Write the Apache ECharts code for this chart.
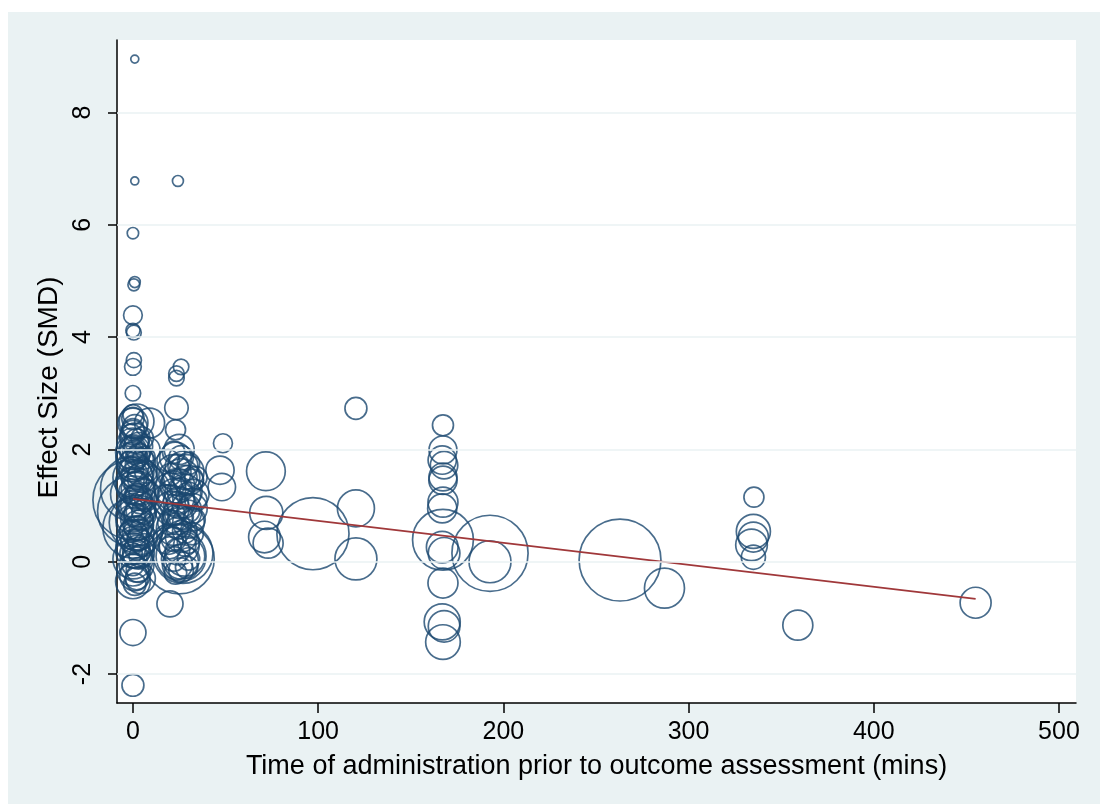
<!DOCTYPE html>
<html>
<head>
<meta charset="utf-8">
<script src="https://cdn.jsdelivr.net/npm/echarts@6/dist/echarts.min.js"></script>
<style>
html,body{margin:0;padding:0;background:#fff;}
#c{width:1100px;height:804px;}
</style>
</head>
<body>
<div id="c"></div>
<script>
// ---- data: [time (mins), effect size (SMD), weight] ----
const outliers = [
  [1, 8.95, 0.64], [1, 6.78, 0.64], [24.3, 6.78, 1.2], [0, 5.85, 1.3],
  [1, 4.98, 1.2], [0.5, 4.93, 1.4], [0, 4.39, 3.5], [0, 4.12, 2.0],
  [0.5, 4.08, 2.2], [0.5, 3.59, 2.3], [0, 3.47, 2.8], [0, 3.0, 2.4],
  [26, 3.47, 2.4], [23.5, 3.35, 2.4], [23.5, 3.27, 2.4], [23.5, 2.74, 5.5], [23, 2.35, 4]
];
const clusterZero = [
  [0,2.62,4],[0,2.47,9],[2,2.5,12],[9,2.47,9],[0,2.3,6],[1,2.2,9],[0,2.1,10],[3,2.05,8],
  [0,1.95,12],[-1,1.85,9],[1,1.8,14],[4,1.75,9],[0,1.7,10],[2,1.6,12],[0,1.5,16],[5,1.5,9],
  [-1,1.4,10],[1,1.35,14],[3,1.3,12],[0,1.2,20],[6,1.2,9],[0,1.1,64],[1,1.05,12],[2,0.95,14],
  [0,0.9,50],[4,0.85,10],[0,0.8,12],[1,0.7,14],[3,0.65,9],[0,0.6,36],[2,0.5,12],[0,0.45,10],
  [5,0.4,9],[1,0.3,14],[0,0.2,12],[3,0.15,10],[0,0.05,16],[2,-0.05,12],[0,-0.15,10],[1,-0.25,9],
  [0,-0.35,12],[4,-0.3,9],[0,1.3,42],[2,0.7,30],[0,-1.26,6.8],[0,-2.2,4.8],
  [0,2.55,5],[1,2.4,6],[-1,2.25,5],[2,2.15,6],[0,2.0,7],[3,1.9,5],[1,1.95,6],[-1,1.65,6],
  [2,1.85,5],[0,1.8,6],[4,1.55,6],[1,1.55,7],[0,1.45,5],[2,1.4,6],[-1,1.25,6],[3,1.15,7],
  [1,1.15,5],[0,1.0,6],[4,1.05,5],[2,1.2,5],[-1,0.95,6],[3,0.9,6],[1,0.85,5],[0,0.75,6],
  [5,0.75,5],[2,0.6,6],[-1,0.55,5],[1,0.5,6],[4,0.55,5],[0,0.35,6],[3,0.4,5],[2,0.25,6],
  [-1,0.15,5],[1,0.1,6],[4,0.1,5],[0,-0.05,5],[3,-0.15,6],[1,-0.4,5],[2,-0.3,5],[6,0.9,6],
  [7,1.6,5],[6,0.3,5],[8,2.0,6],[5,2.2,5],[6,1.85,5],[7,1.1,5],[-1,2.0,6],[0,2.35,5]
];
const clusterDay = [
  [20,-0.75,6.8],[25,2.0,9],[23,1.85,10],[27,1.7,9],[22,1.6,12],[26,1.5,14],[30,1.45,9],
  [24,1.35,12],[20,1.3,10],[28,1.25,12],[23,1.15,14],[33,1.2,9],[25,1.05,10],[21,0.95,12],
  [27,0.9,14],[24,0.75,9],[30,0.7,10],[22,0.6,12],[26,0.45,10],[25,0.3,16],[27,0.15,36],
  [26,0.1,25],[25,0.05,49],[28,0.1,16],[26,0.0,12],[24,-0.05,9],[29,1.6,12],[18,1.1,9],
  [32,0.95,9],[19,0.4,9],
  [22,1.95,5],[26,1.85,6],[30,1.75,5],[24,1.7,6],[20,1.55,5],[28,1.5,6],[32,1.45,5],[22,1.4,6],
  [26,1.3,5],[30,1.2,6],[34,1.1,5],[20,1.15,6],[24,1.05,5],[28,1.0,6],[22,0.85,5],[26,0.8,6],
  [30,0.9,5],[33,0.75,5],[20,0.7,6],[24,0.6,5],[28,0.55,6],[32,0.5,5],[22,0.4,6],[30,0.35,5],
  [20,0.25,5],[24,0.2,6],[28,0.3,5],[22,0.05,6],[30,0.05,5],[26,-0.15,6],[23,-0.2,5],[29,-0.1,5],
  [34,1.5,5],[19,1.8,5]
];
const clusterLater = [
  [48.6,2.11,3.6],[47,1.63,8],[48,1.33,7.5],
  [71.8,1.61,15],[72,0.87,11],[71,0.44,10],[73,0.33,9],
  [97.2,0.5,52],
  [120.4,2.73,4.8],[120.4,0.95,13.7],[120.4,0.05,17.6],
  [167.4,2.43,4.4],[167.4,1.99,7.8],[167,1.81,8],[168,1.72,7.5],[167.4,1.51,7.8],[167.4,1.45,8],
  [167.4,1.06,9],[167,0.95,8.5],[167.4,0.39,37],[167,0.26,10],[168,0.15,10],[167.4,-0.38,9],
  [167,-1.07,13],[168,-1.15,10],[167.4,-1.43,12],
  [192.8,0.15,58],[192.8,0.0,17.6],
  [263,0.03,67],[287,-0.47,16],
  [335.3,1.15,4],[335,0.54,11.6],[335,0.44,9],[334,0.30,10],[335,0.08,5.8],
  [359,-1.13,9],[455,-0.73,9.6]
];
const fitLine = [[0, 1.12], [455, -0.66]];
const xTicks = [0, 100, 200, 300, 400, 500];
const yTicks = [-2, 0, 2, 4, 6, 8];

const allPoints = outliers.concat(clusterZero, clusterDay, clusterLater);

const chart = echarts.init(document.getElementById('c'), null, {renderer: 'canvas'});
const FONT = '"Liberation Sans", Arial, sans-serif';
chart.setOption({
  backgroundColor: '#ffffff',
  animation: false,
  graphic: [{
    type: 'rect', z: -10, silent: true,
    shape: {x: 8, y: 12, width: 1092, height: 792},
    style: {fill: '#eaf2f3'}
  }],
  grid: {left: 117, top: 40, right: 24, bottom: 101, show: true, backgroundColor: '#ffffff', borderWidth: 0},
  xAxis: {
    type: 'value', min: -8.6, max: 509.2,
    name: 'Time of administration prior to outcome assessment (mins)',
    nameLocation: 'middle', nameGap: 50,
    nameTextStyle: {fontFamily: FONT, fontSize: 27, color: '#000'},
    axisLine: {onZero: false, lineStyle: {color: '#000', width: 1.5}},
    axisTick: {show: true, length: 10, customValues: xTicks, lineStyle: {color: '#000', width: 1.5}},
    axisLabel: {customValues: xTicks, fontFamily: FONT, fontSize: 25, color: '#000', margin: 17},
    splitLine: {show: false}
  },
  yAxis: {
    type: 'value', min: -2.515, max: 9.29,
    name: 'Effect Size (SMD)',
    nameLocation: 'middle', nameGap: 47, nameRotate: 90,
    nameTextStyle: {fontFamily: FONT, fontSize: 28, color: '#000', padding: [0, 32, 0, 0]},
    axisLine: {onZero: false, lineStyle: {color: '#000', width: 1.5}},
    axisTick: {show: true, length: 9, customValues: yTicks, lineStyle: {color: '#000', width: 1.5}},
    axisLabel: {customValues: yTicks, rotate: 90, fontFamily: FONT, fontSize: 25, color: '#000', margin: 21},
    splitLine: {show: false}
  },
  series: [
    {
      type: 'scatter',
      data: allPoints,
      symbol: 'circle',
      symbolSize: function (v) { return 10 * Math.sqrt(v[2]); },
      itemStyle: {color: 'rgba(0,0,0,0)', borderColor: '#1a476f', borderWidth: 1.7},
      emphasis: {disabled: true},
      markLine: {
        silent: true, symbol: 'none', label: {show: false},
        lineStyle: {color: '#eaf2f3', width: 1.5, type: 'solid'},
        data: yTicks.map(function (t) { return {yAxis: t}; })
      },
      z: 3
    },
    {
      type: 'line',
      data: fitLine,
      symbol: 'none',
      lineStyle: {color: '#a0383a', width: 1.8},
      z: 4
    }
  ]
});
</script>
</body>
</html>
